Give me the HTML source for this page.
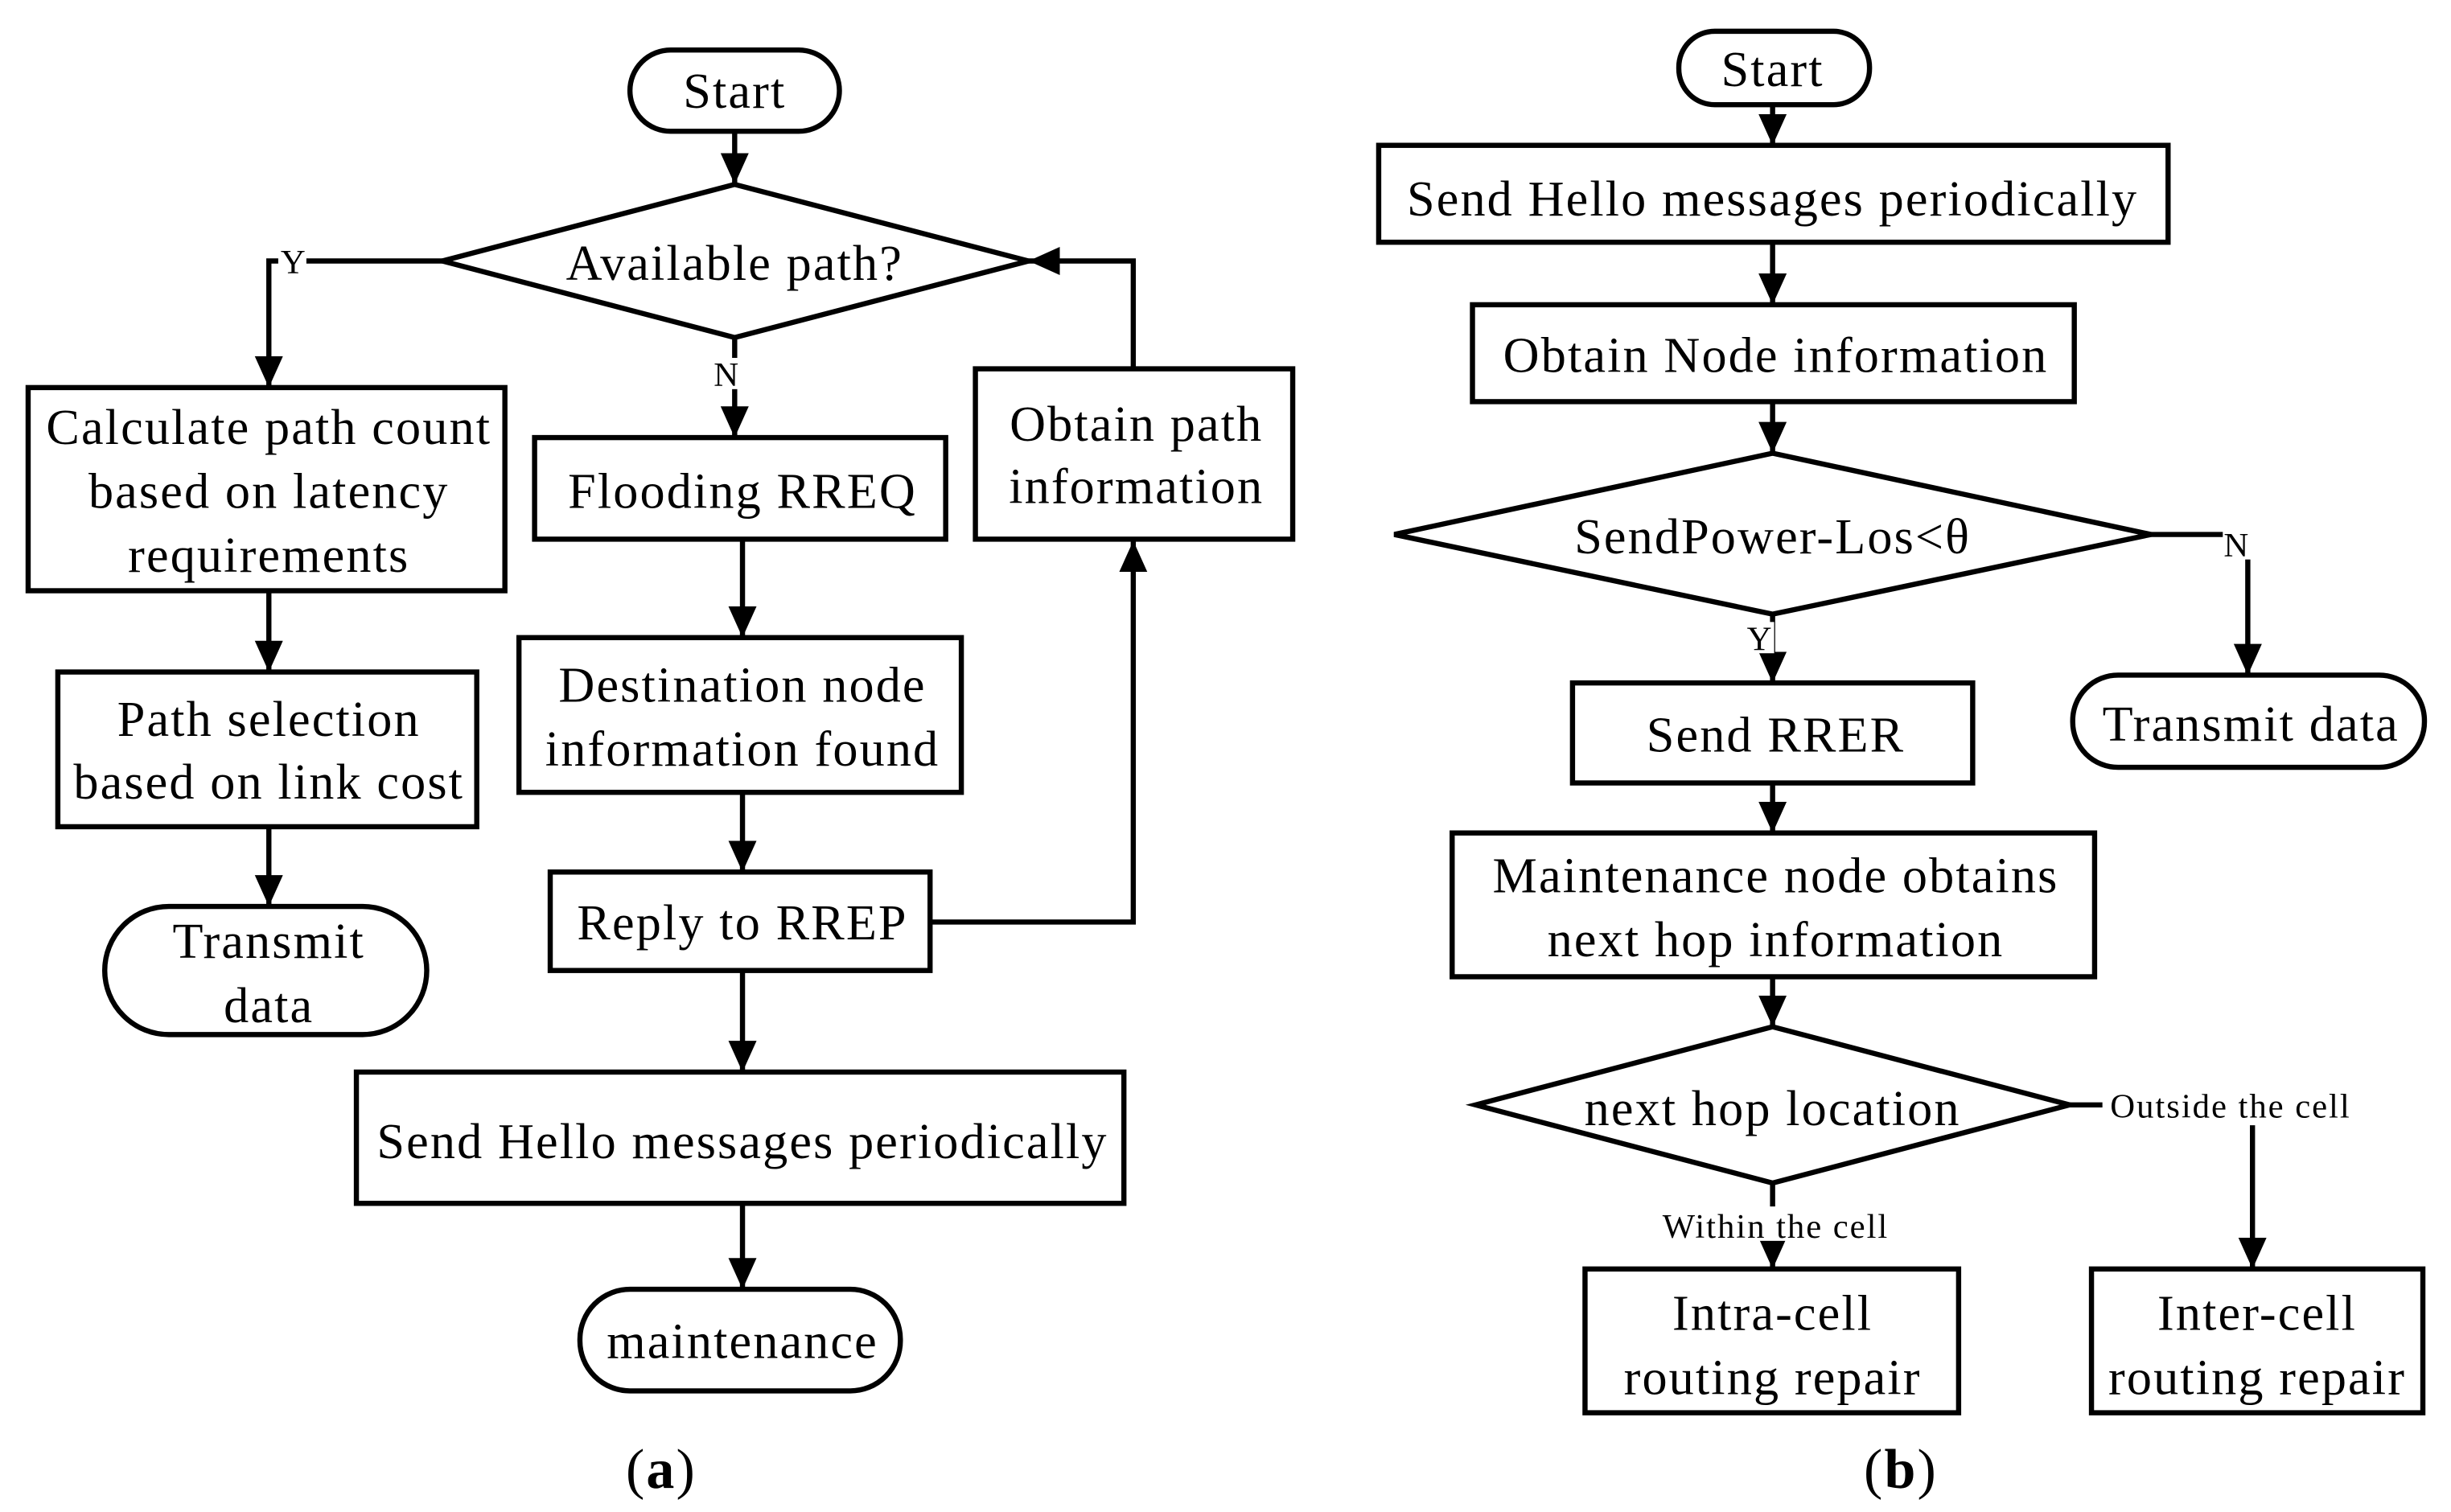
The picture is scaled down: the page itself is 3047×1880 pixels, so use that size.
<!DOCTYPE html>
<html><head><style>html,body{margin:0;padding:0;background:#fff}svg{display:block}</style></head>
<body>
<svg width="3047" height="1880" viewBox="0 0 1568 967.5" preserveAspectRatio="none" xmlns="http://www.w3.org/2000/svg">
<defs>
<marker id="ah" markerUnits="userSpaceOnUse" markerWidth="22" markerHeight="22" refX="20" refY="9" orient="auto">
<path d="M0,0 L20,9 L0,18 z" fill="#000"/>
</marker>
</defs>
<g fill="none" stroke="#000" stroke-width="3.3">
<rect x="403" y="32" width="134" height="52" rx="26"/>
<polygon points="283,167 470,118 658,167 470,216"/>
<rect x="18" y="248" width="305" height="130"/>
<rect x="37" y="430" width="268" height="99"/>
<rect x="67" y="580" width="206" height="82" rx="41"/>
<rect x="342" y="280" width="263" height="65"/>
<rect x="332" y="408" width="283" height="99"/>
<rect x="352" y="558" width="243" height="63"/>
<rect x="624" y="236" width="203" height="109"/>
<rect x="228" y="686" width="491" height="84"/>
<rect x="371" y="825" width="205" height="65" rx="32"/>
<g marker-end="url(#ah)">
<line x1="470" y1="84" x2="470" y2="118"/>
<polyline points="283,167 172,167 172,248"/>
<line x1="172" y1="378" x2="172" y2="430"/>
<line x1="172" y1="529" x2="172" y2="580"/>
<line x1="470" y1="216" x2="470" y2="280"/>
<line x1="475" y1="345" x2="475" y2="408"/>
<line x1="475" y1="507" x2="475" y2="558"/>
<polyline points="595,590 725,590 725,346"/>
<polyline points="725,236 725,167 658,167"/>
<line x1="475" y1="621" x2="475" y2="686"/>
<line x1="475" y1="770" x2="475" y2="825"/>
</g>
<rect x="1074" y="20" width="122" height="47" rx="23"/>
<rect x="882" y="93" width="505" height="62"/>
<rect x="942" y="195" width="385" height="62"/>
<polygon points="892,342 1134,290 1376,342 1134,393"/>
<rect x="1006" y="437" width="256" height="64"/>
<rect x="1326" y="432" width="225" height="59" rx="29"/>
<rect x="929" y="533" width="411" height="92"/>
<polygon points="944,707 1134,657 1324,707 1134,757"/>
<rect x="1014" y="812" width="239" height="92"/>
<rect x="1338" y="812" width="212" height="92"/>
<line x1="1324" y1="707" x2="1345" y2="707"/>
<g marker-end="url(#ah)">
<line x1="1134" y1="67" x2="1134" y2="93"/>
<line x1="1134" y1="155" x2="1134" y2="195"/>
<line x1="1134" y1="257" x2="1134" y2="290"/>
<polyline points="1376,342 1438,342 1438,432"/>
<line x1="1134" y1="393" x2="1134" y2="437"/>
<line x1="1134" y1="501" x2="1134" y2="533"/>
<line x1="1134" y1="625" x2="1134" y2="657"/>
<line x1="1134" y1="757" x2="1134" y2="812"/>
<line x1="1441" y1="720" x2="1441" y2="812"/>
</g>
</g>
<g fill="#fff">
<rect x="178" y="157" width="18" height="20"/>
<rect x="456" y="229" width="18" height="20"/>
<rect x="1422" y="338" width="18" height="20"/>
<rect x="1117" y="398" width="18" height="20"/>
<rect x="1060" y="772" width="152" height="22"/>
</g>
<g font-family="Liberation Serif, serif" font-size="32" letter-spacing="1.1" text-anchor="middle" fill="#000">
<text x="470" y="69">Start</text>
<text x="470" y="179">Available path?</text>
<text x="172" y="284">Calculate path count</text>
<text x="172" y="325">based on latency</text>
<text x="172" y="366">requirements</text>
<text x="172" y="471">Path selection</text>
<text x="172" y="511">based on link cost</text>
<text x="172" y="613">Transmit</text>
<text x="172" y="654">data</text>
<text x="475" y="325">Flooding RREQ</text>
<text x="475" y="449">Destination node</text>
<text x="475" y="490">information found</text>
<text x="475" y="601">Reply to RREP</text>
<text x="727" y="282">Obtain path</text>
<text x="727" y="322">information</text>
<text x="475" y="741">Send Hello messages periodically</text>
<text x="475" y="869">maintenance</text>
<text x="1134" y="55">Start</text>
<text x="1134" y="138">Send Hello messages periodically</text>
<text x="1136" y="238">Obtain Node information</text>
<text x="1134" y="354">SendPower-Los&lt;θ</text>
<text x="1136" y="481">Send RRER</text>
<text x="1440" y="474">Transmit data</text>
<text x="1136" y="571">Maintenance node obtains</text>
<text x="1136" y="612">next hop information</text>
<text x="1134" y="720">next hop location</text>
<text x="1134" y="851">Intra-cell</text>
<text x="1134" y="892">routing repair</text>
<text x="1444" y="851">Inter-cell</text>
<text x="1444" y="892">routing repair</text>
<g font-size="22" letter-spacing="1">
<text x="188" y="175">Y</text>
<text x="465" y="247">N</text>
<text x="1431" y="356">N</text>
<text x="1126" y="416">Y</text>
<text x="1427" y="715">Outside the cell</text>
<text x="1136" y="792">Within the cell</text>
</g>
<text x="423" y="952" font-size="36">(<tspan font-weight="bold">a</tspan>)</text>
<text x="1216" y="952" font-size="36">(<tspan font-weight="bold">b</tspan>)</text>
</g>
</svg>
</body></html>
